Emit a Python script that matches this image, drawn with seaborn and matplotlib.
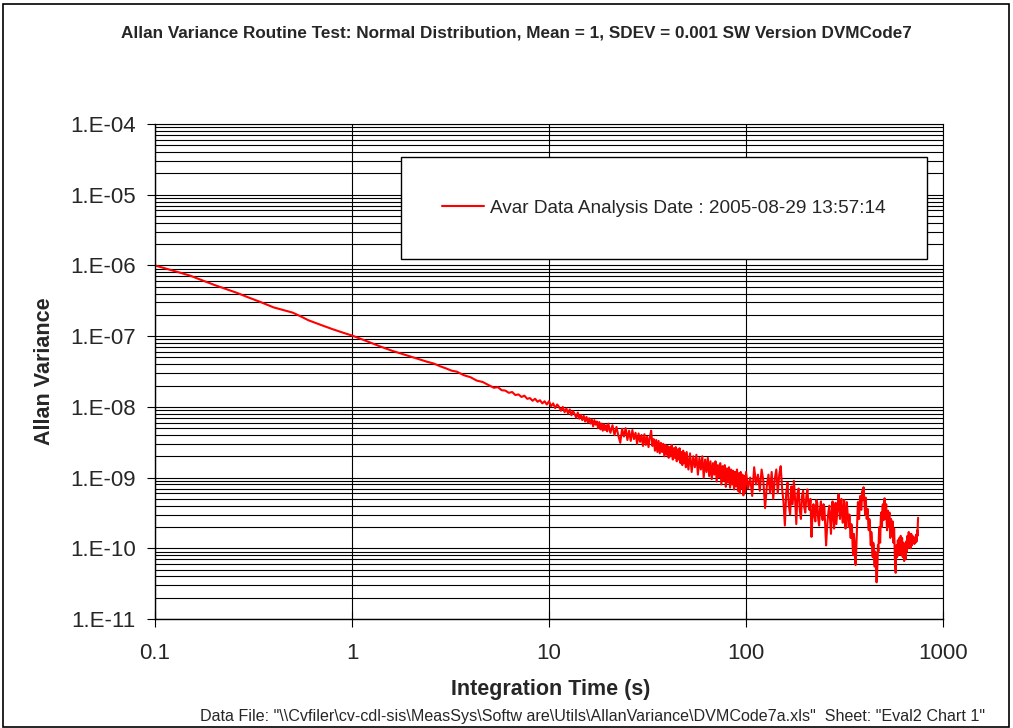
import numpy as np
import pandas as pd
import matplotlib
matplotlib.use("Agg")
import matplotlib.pyplot as plt
from matplotlib.ticker import LogLocator, NullLocator, FixedLocator
from matplotlib.patches import Rectangle
import seaborn as sns

# ---------------- data ----------------
tau_smooth = [0.1, 0.15, 0.2, 0.26, 0.3, 0.34, 0.4, 0.5, 0.55, 0.6, 0.7, 0.8, 0.9,
              1.0, 1.2, 1.4, 1.6, 1.8, 2.0, 2.2, 2.4, 2.6, 2.8, 3.0, 3.2, 3.4, 3.7,
              4.0, 4.3, 4.6]
avar_smooth = [1.0e-6, 7.2e-7, 5.3e-7, 4.1e-7, 3.5e-7, 3.07e-7, 2.55e-7, 2.15e-7, 1.9e-7,
               1.68e-7, 1.43e-7, 1.25e-7, 1.12e-7,
               1.02e-7, 8.4e-8, 7.1e-8, 6.2e-8, 5.6e-8, 5.1e-8, 4.7e-8, 4.35e-8, 4.1e-8,
               3.75e-8, 3.5e-8, 3.25e-8, 3.15e-8, 2.8e-8, 2.62e-8, 2.35e-8, 2.25e-8]

tau_5_10 = [5.0, 5.25, 5.5, 5.75, 6.0, 6.25, 6.5, 6.75, 7.0, 7.25,
            7.5, 7.75, 8.0, 8.25, 8.5, 8.75, 9.0, 9.25, 9.5, 9.75]
avar_5_10 = [2.0e-8, 1.86e-8, 1.9e-8, 1.72e-8, 1.7e-8, 1.58e-8, 1.62e-8, 1.47e-8, 1.5e-8, 1.38e-8,
             1.44e-8, 1.3e-8, 1.33e-8, 1.22e-8, 1.3e-8, 1.18e-8, 1.24e-8, 1.12e-8, 1.2e-8, 1.08e-8]

tau_10_20 = [10.0, 10.25, 10.5, 10.75, 11.0, 11.25, 11.5, 11.75, 12.0, 12.25,
             12.5, 12.75, 13.0, 13.25, 13.5, 13.75, 14.0, 14.25, 14.5, 14.75,
             15.0, 15.25, 15.5, 15.75, 16.0, 16.25, 16.5, 16.75, 17.0, 17.25,
             17.5, 17.75, 18.0, 18.25, 18.5, 18.75, 19.0, 19.25, 19.5, 19.75]
avar_10_20 = [1.2e-8, 1.02e-8, 1.12e-8, 9.6e-9, 1.08e-8, 1.0e-8, 8.8e-9, 1.0e-8, 8.4e-9, 9.5e-9,
              8.0e-9, 9.2e-9, 7.6e-9, 8.7e-9, 7.9e-9, 7.0e-9, 8.3e-9, 6.8e-9, 7.7e-9, 6.5e-9,
              7.5e-9, 6.2e-9, 7.2e-9, 6.0e-9, 6.9e-9, 5.8e-9, 6.6e-9, 5.3e-9, 6.5e-9, 5.6e-9,
              6.2e-9, 5.0e-9, 6.1e-9, 4.8e-9, 5.8e-9, 4.6e-9, 5.7e-9, 4.7e-9, 5.5e-9, 4.5e-9]

tau_20_50 = [20.0, 20.5, 21.0, 21.5, 22.0, 22.5, 23.0, 23.5, 24.0, 24.5,
             25.0, 25.5, 26.0, 26.5, 27.0, 27.5, 28.0, 28.5, 29.0, 29.5,
             30.0, 30.5, 31.0, 31.5, 32.0, 32.5, 33.0, 33.5, 34.0, 34.5,
             35.0, 35.5, 36.0, 36.5, 37.0, 37.5, 38.0, 38.5, 39.0, 39.5,
             40.0, 40.5, 41.0, 41.5, 42.0, 42.5, 43.0, 43.5, 44.0, 44.5,
             45.0, 45.5, 46.0, 46.5, 47.0, 47.5, 48.0, 48.5, 49.0, 49.5]
avar_20_50 = [5.8e-9, 4.3e-9, 5.5e-9, 4.0e-9, 5.2e-9, 3.9e-9, 3.1e-9, 4.9e-9, 3.8e-9, 5.0e-9,
              3.4e-9, 4.6e-9, 3.3e-9, 4.7e-9, 3.5e-9, 4.3e-9, 3.0e-9, 4.2e-9, 3.2e-9, 4.0e-9,
              2.8e-9, 4.1e-9, 2.9e-9, 3.8e-9, 2.7e-9, 3.7e-9, 4.6e-9, 2.8e-9, 3.5e-9, 2.4e-9,
              3.4e-9, 2.3e-9, 3.3e-9, 2.2e-9, 3.1e-9, 2.3e-9, 3.0e-9, 2.0e-9, 2.9e-9, 2.1e-9,
              2.8e-9, 1.9e-9, 2.7e-9, 2.0e-9, 2.9e-9, 1.8e-9, 2.6e-9, 1.9e-9, 2.7e-9, 1.7e-9,
              2.5e-9, 1.8e-9, 2.6e-9, 1.6e-9, 2.3e-9, 1.5e-9, 2.4e-9, 1.6e-9, 2.2e-9, 1.4e-9]

tau_50_100 = [50, 51, 52, 53, 54, 55, 56, 57, 58, 59,
              60, 61, 62, 63, 64, 65, 66, 67, 68, 69,
              70, 71, 72, 73, 74, 75, 76, 77, 78, 79,
              80, 81, 82, 83, 84, 85, 86, 87, 88, 89,
              90, 91, 92, 93, 94, 95, 96, 97, 98, 99]
avar_50_100 = [2.3e-9, 1.3e-9, 2.2e-9, 1.2e-9, 2.0e-9, 1.4e-9, 2.1e-9, 1.1e-9, 1.9e-9, 1.3e-9,
               2.0e-9, 1.0e-9, 1.8e-9, 1.2e-9, 1.9e-9, 1.05e-9, 1.7e-9, 9.5e-10, 1.6e-9, 1.1e-9,
               1.7e-9, 8.8e-10, 1.5e-9, 1.0e-9, 1.6e-9, 8.0e-10, 1.45e-9, 9.0e-10, 1.5e-9, 7.4e-10,
               1.35e-9, 8.5e-10, 1.4e-9, 7.2e-10, 1.3e-9, 8.0e-10, 1.25e-9, 6.8e-10, 1.2e-9, 7.5e-10,
               1.3e-9, 6.5e-10, 1.15e-9, 6.0e-10, 1.2e-9, 7.0e-10, 1.1e-9, 5.6e-10, 1.05e-9, 6.2e-10]

tau_long = [100, 102.5, 105, 107.5, 110, 112.5, 115, 117.5, 120, 122.5,
            125, 127.5, 130, 132.5, 135, 137.5, 140, 142.5, 145, 147.5,
            150, 152.5, 155, 157.5, 160, 162.5, 165, 167.5, 170, 172.5,
            175, 177.5, 180, 182.5, 185, 187.5, 190, 192.5, 195, 197.5,
            200, 202.5, 205, 207.5, 210, 212.5, 215, 217.5, 220, 222.5,
            225, 227.5, 230, 232.5, 235, 237.5, 240, 242.5, 245, 247.5,
            250, 252.5, 255, 257.5, 260, 262.5, 265, 267.5, 270, 272.5,
            275, 277.5, 280, 282.5, 285, 287.5, 290, 292.5, 295, 297.5,
            300, 302.5, 305, 307.5, 310, 312.5, 315, 317.5, 320, 322.5,
            325, 327.5, 330, 332.5, 335, 337.5, 340, 342.5, 345, 347.5,
            350, 352.5, 355, 357.5, 360, 362.5, 365, 367.5, 370, 372.5,
            375, 377.5, 380, 382.5, 385, 387.5, 390, 392.5, 395, 397.5,
            400, 402.5, 405, 407.5, 410, 412.5, 415, 417.5, 420, 422.5,
            425, 427.5, 430, 432.5, 435, 437.5, 440, 442.5, 445, 447.5,
            450, 452.5, 455, 457.5, 460, 462.5, 465, 467.5, 470, 472.5,
            475, 477.5, 480, 482.5, 485, 487.5, 490, 492.5, 495, 497.5,
            500, 502.5, 505, 507.5, 510, 512.5, 515, 517.5, 520, 522.5,
            525, 527.5, 530, 532.5, 535, 537.5, 540, 542.5, 545, 547.5,
            550, 552.5, 555, 557.5, 560, 562.5, 565, 567.5, 570, 572.5,
            575, 577.5, 580, 582.5, 585, 587.5, 590, 592.5, 595, 597.5,
            600, 602.5, 605, 607.5, 610, 612.5, 615, 617.5, 620, 622.5,
            625, 627.5, 630, 632.5, 635, 637.5, 640, 642.5, 645, 647.5,
            650, 652.5, 655, 657.5, 660, 662.5, 665, 667.5, 670, 672.5,
            675, 677.5, 680, 682.5, 685, 687.5, 690, 692.5, 695, 697.5,
            700, 702.5, 705, 707.5, 710, 712.5, 715, 717.5, 720, 722.5,
            725, 727.5, 730, 732.5, 735, 737.5, 740, 742.5, 745, 747.5]
avar_long = [1.2e-9, 7.0e-10, 1.0e-9, 5.5e-10, 1.4e-9, 8.0e-10, 1.1e-9, 6.5e-10, 1.3e-9, 9.0e-10,
             3.7e-10, 7.5e-10, 1.1e-9, 6.0e-10, 1.2e-9, 5.0e-10, 9.5e-10, 1.3e-9, 6.0e-10, 1.1e-9,
             1.45e-9, 7.0e-10, 4.5e-10, 2.1e-10, 6.0e-10, 8.5e-10, 4.0e-10, 3.0e-10, 7.5e-10, 4.2e-10,
             9.0e-10, 5.0e-10, 2.2e-10, 6.0e-10, 7.0e-10, 3.5e-10, 2.6e-10, 5.5e-10, 6.5e-10, 3.8e-10,
             3.2e-10, 5.5e-10, 6.8e-10, 4.0e-10, 3.5e-10, 5.0e-10, 1.45e-10, 3.0e-10, 4.2e-10, 2.8e-10,
             2.4e-10, 4.8e-10, 4.4e-10, 2.6e-10, 2.1e-10, 3.6e-10, 4.6e-10, 3.0e-10, 2.5e-10, 4.2e-10,
             3.8e-10, 2.0e-10, 1.1e-10, 1.8e-10, 2.6e-10, 3.4e-10, 4.0e-10, 2.4e-10, 1.6e-10, 3.2e-10,
             4.6e-10, 2.8e-10, 1.9e-10, 3.3e-10, 4.4e-10, 2.2e-10, 3.0e-10, 4.2e-10, 5.8e-10, 3.6e-10,
             2.6e-10, 4.0e-10, 5.0e-10, 3.0e-10, 2.3e-10, 3.6e-10, 4.8e-10, 2.8e-10, 1.9e-10, 3.4e-10,
             4.5e-10, 3.2e-10, 2.4e-10, 2.0e-10, 3.0e-10, 1.9e-10, 1.4e-10, 2.2e-10, 2.0e-10, 1.1e-10,
             8.0e-11, 1.6e-10, 1.3e-10, 7.5e-11, 5.8e-11, 9.0e-11, 1.6e-10, 3.0e-10, 4.5e-10, 3.2e-10,
             2.6e-10, 4.2e-10, 5.5e-10, 3.8e-10, 3.5e-10, 5.0e-10, 6.5e-10, 4.8e-10, 7.3e-10, 5.5e-10,
             4.0e-10, 3.0e-10, 5.2e-10, 3.6e-10, 2.6e-10, 3.2e-10, 3.6e-10, 2.2e-10, 1.8e-10, 2.6e-10,
             2.4e-10, 1.5e-10, 1.1e-10, 1.7e-10, 1.4e-10, 9.0e-11, 7.5e-11, 1.2e-10, 1.1e-10, 7.0e-11,
             5.5e-11, 9.0e-11, 8.0e-11, 4.5e-11, 3.3e-11, 4.2e-11, 6.0e-11, 1.1e-10, 9.0e-11, 1.5e-10,
             2.0e-10, 1.3e-10, 1.2e-10, 2.4e-10, 3.2e-10, 2.2e-10, 2.0e-10, 3.6e-10, 4.2e-10, 3.0e-10,
             2.5e-10, 3.8e-10, 5.1e-10, 3.4e-10, 2.6e-10, 3.6e-10, 4.2e-10, 2.4e-10, 1.8e-10, 2.8e-10,
             3.4e-10, 2.4e-10, 2.0e-10, 2.8e-10, 3.2e-10, 1.9e-10, 1.4e-10, 2.2e-10, 2.6e-10, 1.8e-10,
             1.5e-10, 2.2e-10, 2.4e-10, 1.6e-10, 1.2e-10, 1.7e-10, 1.9e-10, 1.1e-10, 7.0e-11, 5.5e-11,
             4.5e-11, 8.0e-11, 1.1e-10, 9.0e-11, 7.5e-11, 1.0e-10, 1.3e-10, 9.5e-11, 8.0e-11, 1.2e-10,
             1.4e-10, 1.05e-10, 9.5e-11, 1.3e-10, 1.5e-10, 1.0e-10, 8.0e-11, 1.15e-10, 1.4e-10, 9.5e-11,
             7.5e-11, 1.05e-10, 1.2e-10, 8.5e-11, 6.6e-11, 9.0e-11, 1.1e-10, 8.5e-11, 7.0e-11, 1.0e-10,
             1.25e-10, 1.0e-10, 9.0e-11, 1.3e-10, 1.5e-10, 1.15e-10, 1.0e-10, 1.4e-10, 1.7e-10, 1.25e-10,
             1.1e-10, 1.4e-10, 1.6e-10, 1.2e-10, 1.0e-10, 1.35e-10, 1.6e-10, 1.2e-10, 1.1e-10, 1.4e-10,
             1.5e-10, 1.25e-10, 1.2e-10, 1.45e-10, 1.4e-10, 1.2e-10, 1.15e-10, 1.35e-10, 1.4e-10, 1.2e-10,
             1.2e-10, 1.45e-10, 1.55e-10, 1.3e-10, 1.25e-10, 1.6e-10, 1.8e-10, 1.5e-10, 2.2e-10, 2.7e-10]

x_ticks = [0.1, 1, 10, 100, 1000]
x_tick_labels = ["0.1", "1", "10", "100", "1000"]
y_ticks = [1e-11, 1e-10, 1e-9, 1e-8, 1e-7, 1e-6, 1e-5, 1e-4]
y_tick_labels = ["1.E-11", "1.E-10", "1.E-09", "1.E-08", "1.E-07", "1.E-06", "1.E-05", "1.E-04"]

series_label = "Avar Data Analysis Date : 2005-08-29 13:57:14"
title_text = "Allan Variance Routine Test: Normal Distribution, Mean = 1, SDEV = 0.001 SW Version DVMCode7"
footer_text = ('Data File: "\\\\Cvfiler\\cv-cdl-sis\\MeasSys\\Softw are\\Utils\\AllanVariance\\DVMCode7a.xls"'
               '  Sheet: "Eval2 Chart 1"')

pairs = [(tau_smooth, avar_smooth), (tau_5_10, avar_5_10), (tau_10_20, avar_10_20),
         (tau_20_50, avar_20_50), (tau_50_100, avar_50_100), (tau_long, avar_long)]
for t, a in pairs:
    assert len(t) == len(a), (len(t), len(a))
df = pd.DataFrame({
    "tau": sum([list(t) for t, _ in pairs], []),
    "avar": sum([list(a) for _, a in pairs], []),
})

# ---------------- style ----------------
sns.set_style("white")
plt.rcParams['font.family'] = ['Liberation Sans', 'DejaVu Sans']

W, H = 1013, 728
fig = plt.figure(figsize=(W / 100, H / 100), dpi=100)
fig.patch.set_facecolor("white")
ax = fig.add_axes([155 / W, 1 - 619 / H, 788 / W, 495 / H])

sns.lineplot(data=df, x="tau", y="avar", ax=ax, color="#FF0000", lw=1.5,
             sort=False, estimator=None, label=series_label)

ax.set_xscale("log")
ax.set_yscale("log")
ax.set_xlim(0.1, 1000)
ax.set_ylim(1e-11, 1e-4)

ax.xaxis.set_major_locator(FixedLocator(x_ticks))
ax.xaxis.set_minor_locator(NullLocator())
ax.set_xticklabels(x_tick_labels)
ax.yaxis.set_major_locator(FixedLocator(y_ticks))
ax.set_yticklabels(y_tick_labels)
ax.yaxis.set_minor_locator(LogLocator(base=10, subs=[2, 3, 4, 5, 6, 7, 8, 9], numticks=100))

ax.grid(which="major", axis="both", color="black", lw=0.8)
ax.grid(which="minor", axis="y", color="black", lw=0.8)
ax.set_axisbelow(True)

ax.tick_params(axis="y", which="major", direction="out", length=6, width=0.8,
               pad=8, labelsize=16, color="black", left=True)
ax.tick_params(axis="y", which="minor", length=0)
ax.tick_params(axis="x", which="major", direction="inout", length=12, width=0.8,
               pad=11, labelsize=16, color="black", bottom=True)

for s in ["left", "bottom"]:
    ax.spines[s].set_color("black")
    ax.spines[s].set_linewidth(1.0)
for s in ["top", "right"]:
    ax.spines[s].set_color("black")
    ax.spines[s].set_linewidth(0.8)

ax.set_xlabel("")
ax.set_ylabel("")
fig.text(551 / W, 1 - 690 / H, "Integration Time (s)", ha="center", va="center",
         fontsize=15.5, fontweight="bold")
fig.text(45 / W, 1 - 371 / H, "Allan Variance", ha="center", va="center",
         rotation=90, fontsize=15.5, fontweight="bold")
fig.text(516 / W, 1 - 33 / H, title_text, ha="center", va="center",
         fontsize=12.3, fontweight="bold")
fig.text(985 / W, 1 - 716 / H, footer_text, ha="right", va="center", fontsize=11.6)

leg = ax.legend(loc="center", bbox_to_anchor=((664 - 155) / 788, (619 - 208) / 495),
                frameon=True, fancybox=False, shadow=False, framealpha=1,
                fontsize=13.7, borderpad=2.2, handlelength=2.2, handletextpad=0.3,
                borderaxespad=0)
leg.get_frame().set_edgecolor("black")
leg.get_frame().set_linewidth(1.0)

# outer chart-area border
fig.patches.append(Rectangle((3 / W, 1 / H), 1006 / W, 723 / H, transform=fig.transFigure,
                             fill=False, edgecolor="black", lw=1.2))

fig.savefig("out.png", dpi=100, facecolor="white")
